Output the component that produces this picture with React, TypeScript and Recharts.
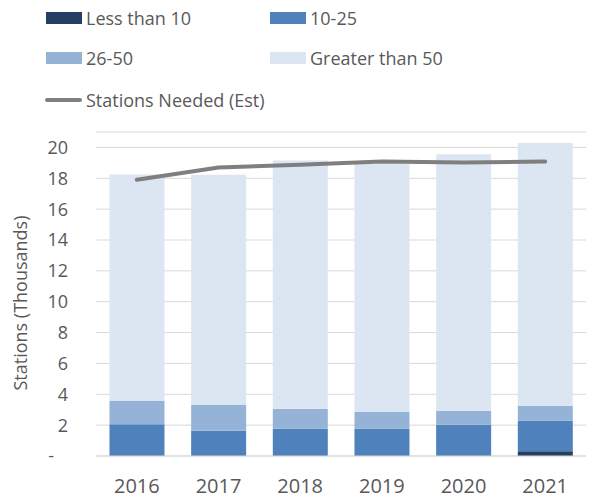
import { ComposedChart, Bar, Line, XAxis, YAxis, CartesianGrid } from 'recharts'

const YEARS = ['2016', '2017', '2018', '2019', '2020', '2021']
const LESS_THAN_10 = [0, 0, 0, 0, 0, 0.3]
const FROM_10_TO_25 = [2.05, 1.64, 1.77, 1.77, 2.03, 1.98]
const FROM_26_TO_50 = [1.51, 1.66, 1.29, 1.08, 0.9, 0.98]
const GREATER_THAN_50 = [14.69, 14.93, 16.1, 16.1, 16.62, 17.02]
const STATIONS_NEEDED = [17.9, 18.7, 18.88, 19.08, 19.02, 19.08]
const Y_TICKS = [0, 2, 4, 6, 8, 10, 12, 14, 16, 18, 20]

const FONT = '"Open Sans", sans-serif'
const TEXT = '#595959'

const SERIES = [
  { key: 'lt10', name: 'Less than 10', color: '#253f63' },
  { key: 'b10', name: '10-25', color: '#4f81bd' },
  { key: 'b26', name: '26-50', color: '#95b3d7' },
  { key: 'gt50', name: 'Greater than 50', color: '#dce6f2' },
]

const data = YEARS.map((year, i) => ({
  year,
  lt10: LESS_THAN_10[i],
  b10: FROM_10_TO_25[i],
  b26: FROM_26_TO_50[i],
  gt50: GREATER_THAN_50[i],
  needed: STATIONS_NEEDED[i],
}))

function fmtTick(v: number) {
  return v === 0 ? '-\u00A0\u00A0\u00A0' : String(v)
}

function Legend() {
  const item = (left: number, top: number, swatch: React.ReactNode, label: string) => (
    <div style={{ position: 'absolute', left, top, display: 'flex', alignItems: 'center', height: 24 }}>
      {swatch}
      <span style={{ marginLeft: 4, fontSize: 18, color: TEXT, fontFamily: FONT, whiteSpace: 'nowrap' }}>{label}</span>
    </div>
  )
  const box = (c: string) => <div style={{ width: 36, height: 12, background: c }} />
  return (
    <>
      {item(46, 6, box(SERIES[0].color), SERIES[0].name)}
      {item(270, 6, box(SERIES[1].color), SERIES[1].name)}
      {item(46, 46, box(SERIES[2].color), SERIES[2].name)}
      {item(270, 46, box(SERIES[3].color), SERIES[3].name)}
      {item(45, 88, <div style={{ width: 37, height: 4, borderRadius: 2, background: '#7f7f7f' }} />, 'Stations Needed (Est)')}
    </>
  )
}

export default function App() {
  return (
    <div style={{ position: 'absolute', left: 0, top: 0, width: 598, height: 498, background: '#fff' }}>
      <Legend />
      <ComposedChart width={598} height={498} data={data} margin={{ top: 132, right: 12, bottom: 0, left: 0 }} barCategoryGap="16.5%">
        <CartesianGrid vertical={false} stroke="#d9d9d9" />
        <XAxis
          dataKey="year"
          height={42}
          tickLine={false}
          axisLine={{ stroke: '#d9d9d9' }}
          tick={{ fontSize: 20, fill: TEXT, fontFamily: FONT }}
          tickMargin={17}
        />
        <YAxis
          width={96}
          domain={[0, 21]}
          ticks={Y_TICKS}
          interval={0}
          tickFormatter={fmtTick}
          tickLine={false}
          axisLine={false}
          tick={{ fontSize: 18, fill: TEXT, fontFamily: FONT }}
          tickMargin={22}
          label={{
            content: () => (
              <text x={20} y={303} transform="rotate(-90, 20, 303)" textAnchor="middle" dominantBaseline="central" fontSize={18} fill={TEXT} fontFamily={FONT}>
                Stations (Thousands)
              </text>
            ),
          }}
        />
        {SERIES.map(s => (
          <Bar key={s.key} dataKey={s.key} name={s.name} stackId="a" fill={s.color} isAnimationActive={false} />
        ))}
        <Line dataKey="needed" name="Stations Needed (Est)" stroke="#7f7f7f" strokeWidth={4} dot={false} strokeLinecap="round" isAnimationActive={false} />
      </ComposedChart>
    </div>
  )
}
